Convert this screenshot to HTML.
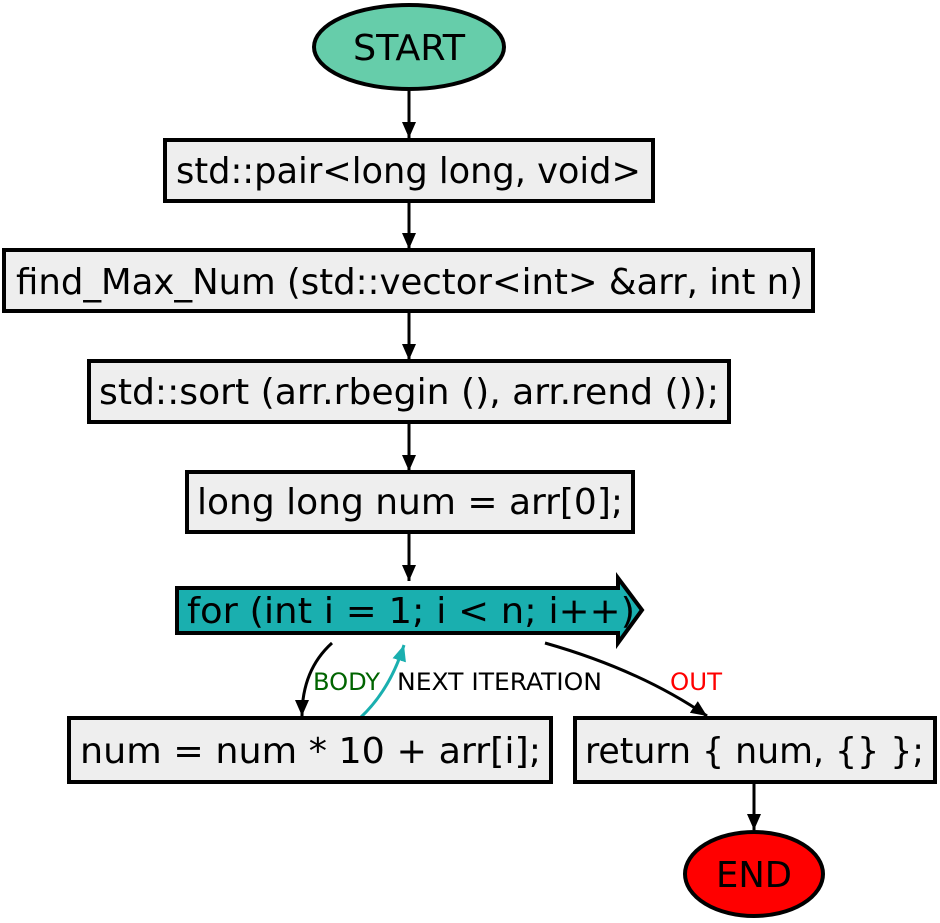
<!DOCTYPE html>
<html><head><style>body{margin:0;background:#fff}svg{display:block}text{font-family:"DejaVu Sans Condensed","DejaVu Sans","Liberation Sans",sans-serif}</style></head><body>
<svg width="940" height="923" viewBox="0 0 940 923" xmlns="http://www.w3.org/2000/svg">
<defs>
<marker id="a" markerWidth="16" markerHeight="16" refX="16" refY="8" orient="auto" markerUnits="userSpaceOnUse" viewBox="0 0 16 16"><path d="M0,1 L16,8 L0,15 z" fill="#000"/></marker>
<marker id="t" markerWidth="16" markerHeight="16" refX="16" refY="8" orient="auto" markerUnits="userSpaceOnUse" viewBox="0 0 16 16"><path d="M0,1 L16,8 L0,15 z" fill="#1aafaf"/></marker>
</defs>
<g stroke="#000" stroke-width="3" fill="none">
<line x1="409" y1="91" x2="409" y2="138" marker-end="url(#a)"/>
<line x1="409" y1="202" x2="409" y2="249" marker-end="url(#a)"/>
<line x1="409" y1="312" x2="409" y2="360" marker-end="url(#a)"/>
<line x1="409" y1="423" x2="409" y2="471" marker-end="url(#a)"/>
<line x1="409" y1="533" x2="409" y2="581" marker-end="url(#a)"/>
<path d="M332,643 Q302,670 302,716" marker-end="url(#a)"/>
<path d="M545,643 Q640,670 707,716" marker-end="url(#a)"/>
<line x1="754" y1="783" x2="754" y2="830" marker-end="url(#a)"/>
<path d="M360,718 Q390,690 404,645" stroke="#1aafaf" marker-end="url(#t)"/>
</g>
<ellipse cx="409" cy="47" rx="95" ry="42" fill="#66cdaa" stroke="#000" stroke-width="4"/>
<text x="409" y="60" font-size="36" text-anchor="middle" textLength="112" lengthAdjust="spacingAndGlyphs">START</text>
<g fill="#eeeeee" stroke="#000" stroke-width="4">
<rect x="165" y="140" width="488" height="61"/>
<rect x="4" y="250" width="809" height="61"/>
<rect x="89" y="361" width="640" height="61"/>
<rect x="187" y="472" width="446" height="60"/>
<rect x="69" y="718" width="482" height="64"/>
<rect x="575" y="718" width="360" height="64"/>
</g>
<path d="M177,588 L618,588 L618,578 L642,610 L618,643 L618,633 L177,633 Z" fill="#1aafaf" stroke="#000" stroke-width="4"/>
<g font-size="36">
<text x="176" y="183" textLength="465" lengthAdjust="spacingAndGlyphs">std::pair&lt;long long, void&gt;</text>
<text x="16" y="294" textLength="787" lengthAdjust="spacingAndGlyphs">find_Max_Num (std::vector&lt;int&gt; &amp;arr, int n)</text>
<text x="99" y="404" textLength="620" lengthAdjust="spacingAndGlyphs">std::sort (arr.rbegin (), arr.rend ());</text>
<text x="197" y="514" textLength="426" lengthAdjust="spacingAndGlyphs">long long num = arr[0];</text>
<text x="187" y="623" textLength="448" lengthAdjust="spacingAndGlyphs">for (int i = 1; i &lt; n; i++)</text>
<text x="80" y="763" textLength="461" lengthAdjust="spacingAndGlyphs">num = num * 10 + arr[i];</text>
<text x="585" y="763" textLength="339" lengthAdjust="spacingAndGlyphs">return { num, {} };</text>
</g>
<ellipse cx="754" cy="874" rx="69" ry="42" fill="#ff0000" stroke="#000" stroke-width="4"/>
<text x="754" y="887" font-size="36" text-anchor="middle" textLength="76" lengthAdjust="spacingAndGlyphs">END</text>
<g font-size="24">
<text x="313" y="690" fill="#006400" textLength="67" lengthAdjust="spacingAndGlyphs">BODY</text>
<text x="397" y="690" fill="#000" textLength="205" lengthAdjust="spacingAndGlyphs">NEXT ITERATION</text>
<text x="670" y="690" fill="#ff0000" textLength="52" lengthAdjust="spacingAndGlyphs">OUT</text>
</g>
</svg>
</body></html>
